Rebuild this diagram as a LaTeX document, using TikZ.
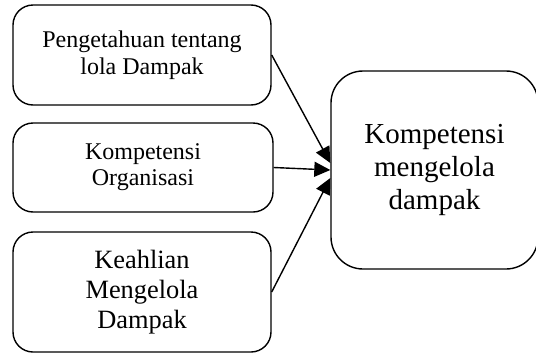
\documentclass[tikz,border=0pt]{standalone}
\usepackage{fontspec}
\setmainfont{Liberation Serif}
\usetikzlibrary{arrows.meta}

\tikzset{
    sidebox/.style={draw, line width=0.7pt, rounded corners=10pt, align=center,
        inner sep=0pt},
    mainbox/.style={draw, line width=0.7pt, rounded corners=16pt, align=center,
        inner sep=0pt},
    link/.style={-{Triangle[length=8pt,width=7.5pt]}, line width=0.7pt},
}

\begin{document}
\begin{tikzpicture}[x=0.5pt, y=-0.5pt]
    \clip
        (0,0) rectangle (536,354)
        ;

    \node [sidebox, minimum width=129pt, minimum height=50pt,
        font=\fontsize{12}{13.5}\selectfont]
        (know) at (142,55)
        {Pengetahuan tentang\\lola Dampak};

    \node [sidebox, minimum width=130pt, minimum height=44.5pt,
        font=\fontsize{12}{13}\selectfont]
        (org) at (143,167.5)
        {Kompetensi\\Organisasi};

    \node [sidebox, minimum width=129pt, minimum height=60pt,
        font=\fontsize{13.2}{15}\selectfont]
        (skill) at (142,292)
        {Keahlian\\Mengelola\\Dampak};

    \node [mainbox, minimum width=103.5pt, minimum height=99pt,
        font=\fontsize{14.5}{16.5}\selectfont]
        (comp) at (434.5,170)
        {Kompetensi\\mengelola\\dampak};

    \draw [link]
        (know.east)
        --
        ([yshift=3.5pt]comp.west)
        ;

    \draw [link]
        (org.east)
        --
        (comp.west)
        ;

    \draw [link]
        (skill.east)
        --
        ([yshift=-4pt]comp.west)
        ;

\end{tikzpicture}
\end{document}
